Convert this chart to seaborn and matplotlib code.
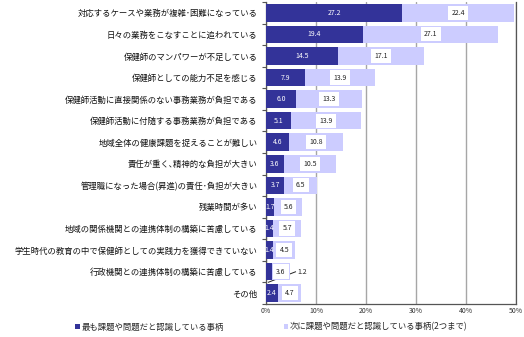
import matplotlib
matplotlib.use("Agg")
import matplotlib.pyplot as plt
from matplotlib.patches import Patch
from matplotlib.ticker import FixedLocator, PercentFormatter
import seaborn as sns
import pandas as pd
import numpy as np

categories = [
    "対応するケースや業務が複雑･困難になっている",
    "日々の業務をこなすことに追われている",
    "保健師のマンパワーが不足している",
    "保健師としての能力不足を感じる",
    "保健師活動に直接関係のない事務業務が負担である",
    "保健師活動に付随する事務業務が負担である",
    "地域全体の健康課題を捉えることが難しい",
    "責任が重く､精神的な負担が大きい",
    "管理職になった場合(昇進)の責任･負担が大きい",
    "残業時間が多い",
    "地域の関係機関との連携体制の構築に苦慮している",
    "学生時代の教育の中で保健師としての実践力を獲得できていない",
    "行政機関との連携体制の構築に苦慮している",
    "その他",
]
most_important = [27.2, 19.4, 14.5, 7.9, 6.0, 5.1, 4.6, 3.6, 3.7, 1.7, 1.4, 1.4, 1.2, 2.4]
second_important = [22.4, 27.1, 17.1, 13.9, 13.3, 13.9, 10.8, 10.5, 6.5, 5.6, 5.7, 4.5, 3.6, 4.7]
x_ticks = [0, 10, 20, 30, 40, 50]

series_most = "最も課題や問題だと認識している事柄"
series_second = "次に課題や問題だと認識している事柄(2つまで)"

dark = "#333399"
light = "#ccccff"

sns.set_theme(style="white")
plt.rcParams["font.family"] = ["Noto Sans CJK JP", "DejaVu Sans"]

df = pd.DataFrame({
    "category": categories,
    "most": most_important,
    "second": second_important,
})
df["total"] = df["most"] + df["second"]

fig = plt.figure(figsize=(5.24, 3.37), dpi=100)
ax = fig.add_axes([0.5076, 0.098, 0.4771, 0.896])

# stacked bars: total (light) underneath, first-choice share (dark) on top
sns.barplot(data=df, x="total", y="category", color=light, saturation=1,
            width=0.82, ax=ax, orient="h")
n_light = len(ax.patches)
sns.barplot(data=df, x="most", y="category", color=dark, saturation=1,
            width=0.82, ax=ax, orient="h")
for k, p in enumerate(ax.patches):
    p.set_zorder(3 if k < n_light else 4)
    p.set_edgecolor("none")

ax.set_xlim(0, 50)
ax.set_ylim(len(categories) - 0.5, -0.5)
ax.set_xlabel("")
ax.set_ylabel("")

ax.xaxis.set_major_locator(FixedLocator(x_ticks))
ax.xaxis.set_major_formatter(PercentFormatter(decimals=0))
ax.tick_params(axis="x", labelsize=5, length=0, pad=2.5, colors="#333333")
ax.tick_params(axis="y", which="major", labelsize=6, length=0, pad=6, colors="#111111")
ax.yaxis.set_minor_locator(FixedLocator(np.arange(-0.5, len(categories), 1.0)))
ax.tick_params(axis="y", which="minor", length=3, width=0.8, color="#555555", left=True)

ax.set_axisbelow(True)
ax.grid(axis="x", color="#a6a6a6", lw=1.0)
ax.grid(axis="y", visible=False)

for side in ["left", "bottom", "right"]:
    ax.spines[side].set_visible(True)
    ax.spines[side].set_color("#555555")
    ax.spines[side].set_linewidth(0.9)
ax.spines["top"].set_visible(False)

for i, (m, s) in enumerate(zip(most_important, second_important)):
    if m >= 1.4:
        ax.text(m / 2, i, f"{m:.1f}", ha="center", va="center", fontsize=5,
                color="white", zorder=6)
    else:
        ax.text(m + s + 1.4, i, f"{m:.1f}", ha="left", va="center", fontsize=5,
                color="#222222", zorder=6)
        ax.plot([m + s + 1.2, 0.4], [i, i + 0.5], color="#222222", lw=0.7,
                zorder=2, solid_capstyle="butt")
    ax.text(m + s / 2, i, f"{s:.1f}", ha="center", va="center", fontsize=5,
            color="#222222", zorder=6,
            bbox=dict(boxstyle="square,pad=0.45", fc="white", ec="none"))

handles = [Patch(facecolor=dark, edgecolor="none"),
           Patch(facecolor=light, edgecolor="none")]
fig.legend(handles, [series_most, series_second], loc="center",
           bbox_to_anchor=(0.518, 0.03), ncol=2, frameon=False, fontsize=6,
           handlelength=0.55, handleheight=0.55, handletextpad=0.2,
           columnspacing=7.2, borderaxespad=0)

fig.savefig("out.png", dpi=100)
